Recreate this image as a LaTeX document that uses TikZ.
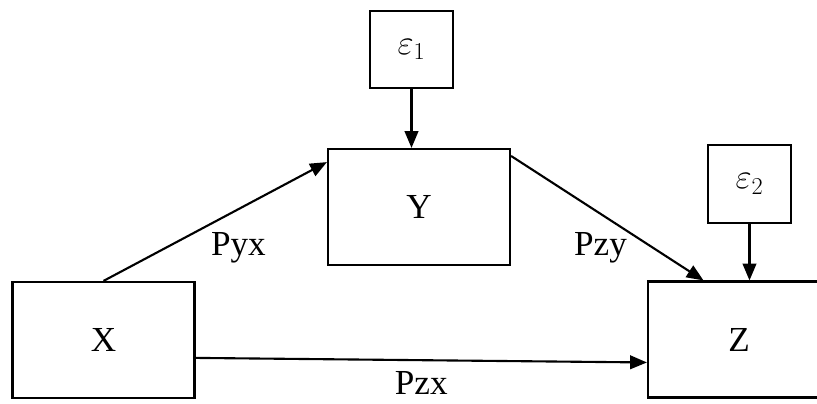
\documentclass[tikz,border=0pt]{standalone}
\usepackage{fontspec}
\setmainfont{Liberation Serif}
\usepackage{tikz}
\usetikzlibrary{arrows.meta, positioning}

\begin{document}
\begin{tikzpicture}[
    x=0.025cm, y=-0.025cm,
    var/.style={rectangle, draw=black, line width=1.5pt, fill=white, minimum width=4.55cm, minimum height=2.9cm, font=\fontsize{25}{30}\selectfont},
    err/.style={rectangle, draw=black, line width=1.5pt, fill=white, minimum width=2.08cm, minimum height=1.94cm, font=\fontsize{25}{30}\selectfont},
    path/.style={-{Triangle[length=0.42cm, width=0.34cm]}, line width=1.5pt},
    lbl/.style={font=\fontsize{25}{30}\selectfont}
]
\useasboundingbox (0,0) rectangle (817,403);

% -- variables --
\node[var] (x) at (103.5,340) {X};
\node[var] (y) at (419,207) {Y};
\node[var] (z) at (739,339.5) {Z};

% -- error terms --
\node[err] (e1) at (411.5,49.5) {$\varepsilon_1$};
\node[err] (e2) at (749.5,184) {$\varepsilon_2$};

% -- paths --
\draw[path] (x.north) -- node[lbl, pos=0.55, below right=8pt and -15pt] {Pyx} (y.154);
\draw[path] (y.29) -- node[lbl, pos=0.5, below left=6pt and -18pt] {Pzy} (z.121);
\draw[path] (x.-11) -- node[lbl, midway, below=5pt, inner ysep=2pt] {Pzx} (z.194);

\draw[path] (e1.south) -- (e1.south |- y.north);
\draw[path] (e2.south) -- (e2.south |- z.north);

\end{tikzpicture}
\end{document}
